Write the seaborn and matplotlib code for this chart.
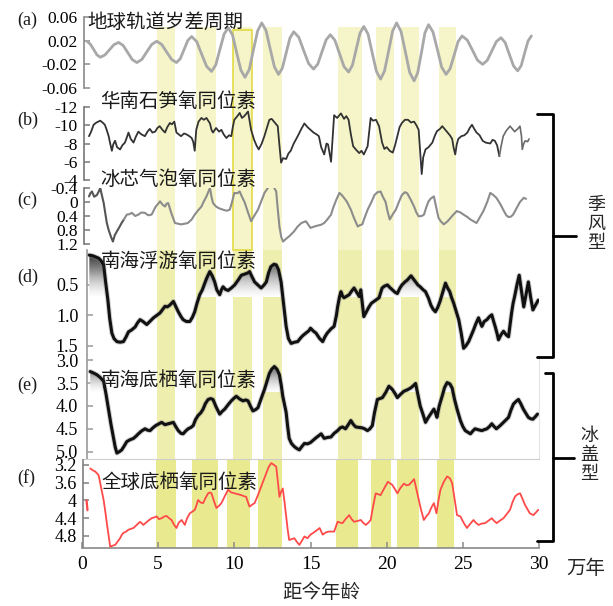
import numpy as np
import matplotlib
matplotlib.use('Agg')
import matplotlib.pyplot as plt
import matplotlib.patheffects as pe
from matplotlib.path import Path
from matplotlib.patches import Rectangle
import seaborn as sns

# ---------------- data (age in 10^4 yr, value) ----------------
a_pts = [(0.33,0.019),(0.55,0.014),(0.77,0.005),(0.98,-0.004),(1.2,-0.008),
 (1.5,-0.0043),(1.8,0.0045),(2.1,0.0133),(2.4,0.017),
 (2.7,0.012),(3.0,0.0),(3.3,-0.012),(3.6,-0.017),
 (3.93,-0.0117),(4.25,0.001),(4.58,0.0137),(4.9,0.019),
 (5.23,0.0137),(5.55,0.001),(5.88,-0.0117),(6.2,-0.017),
 (6.45,-0.0106),(6.7,0.005),(6.95,0.0206),(7.2,0.027),
 (7.53,0.0184),(7.85,-0.0025),(8.18,-0.0234),(8.5,-0.032),
 (8.78,-0.0212),(9.05,0.005),(9.33,0.0312),(9.6,0.042),
 (9.88,0.0297),(10.15,0.0),(10.43,-0.0297),(10.7,-0.042),
 (10.98,-0.0286),(11.25,0.004),(11.53,0.0366),(11.8,0.05),
 (12.08,0.0373),(12.35,0.0065),(12.63,-0.0243),(12.9,-0.037),
 (13.15,-0.0265),(13.4,-0.001),(13.65,0.0245),(13.9,0.035),
 (14.23,0.0258),(14.55,0.0035),(14.88,-0.0188),(15.2,-0.028),
 (15.48,-0.0195),(15.75,0.001),(16.03,0.0215),(16.3,0.03),
 (16.6,0.0208),(16.9,-0.0015),(17.2,-0.0238),(17.5,-0.033),
 (17.75,-0.0218),(18.0,0.0055),(18.25,0.0328),(18.5,0.044),
 (18.78,0.031),(19.05,-0.0005),(19.33,-0.032),(19.6,-0.045),
 (19.86,-0.0311),(20.13,0.0025),(20.39,0.0361),(20.65,0.05),
 (20.94,0.0357),(21.23,0.001),(21.51,-0.0337),(21.8,-0.048),
 (22.04,-0.0341),(22.28,-0.0005),(22.51,0.0331),(22.75,0.047),
 (23.04,0.0347),(23.33,0.005),(23.61,-0.0247),(23.9,-0.037),
 (24.16,-0.0275),(24.43,-0.0045),(24.69,0.0185),(24.95,0.028),
 (25.29,0.021),(25.63,0.004),(25.96,-0.013),(26.3,-0.02),
 (26.6,-0.0134),(26.9,0.0025),(27.2,0.0184),(27.5,0.025),
 (27.78,0.0168),(28.05,-0.003),(28.33,-0.0228),(28.6,-0.031),
 (28.83,-0.0224),(29.05,-0.0015),(29.28,0.0194),(29.5,0.028)]

b_pts = [(0.46,-8.8),(0.6,-9.3),(0.76,-10.05),(0.95,-10.3),(1.2,-10.5),(1.35,-10.3),(1.5,-10.05),
 (1.62,-9.5),(1.75,-8.8),(1.85,-8.0),(1.96,-7.2),(2.05,-7.9),(2.17,-8.3),(2.3,-7.6),(2.5,-7.35),
 (2.65,-7.8),(2.82,-8.1),(2.95,-8.7),(3.05,-9.2),(3.2,-8.5),(3.38,-8.1),(3.55,-8.8),(3.7,-9.3),
 (3.9,-9.0),(4.13,-8.8),(4.3,-9.3),(4.45,-9.6),(4.62,-9.2),(4.8,-9.3),(4.95,-9.7),(5.1,-9.9),
 (5.28,-9.5),(5.45,-9.2),(5.6,-9.8),(5.77,-10.25),(5.9,-10.1),(6.06,-10.4),(6.2,-9.2),(6.35,-9.0),
 (6.5,-8.8),(6.7,-9.1),(6.86,-9.0),(7.05,-8.8),(7.2,-8.6),(7.3,-8.2),(7.4,-7.2),(7.5,-9.5),
 (7.65,-10.4),(7.84,-10.8),(8.0,-10.6),(8.17,-10.8),(8.4,-10.2),(8.5,-9.5),(8.6,-9.2),(8.8,-9.7),
 (9.0,-9.3),(9.15,-9.5),(9.3,-9.0),(9.48,-8.6),(9.65,-8.9),(9.8,-8.8),(9.9,-9.8),(10.0,-10.6),
 (10.2,-11.0),(10.35,-11.35),(10.5,-10.8),(10.65,-11.0),(10.9,-11.5),(11.0,-10.5),(11.1,-9.5),
 (11.3,-8.4),(11.45,-7.8),(11.6,-7.35),(11.8,-8.0),(11.97,-8.8),(12.15,-9.8),(12.3,-10.6),
 (12.45,-10.7),(12.6,-10.4),(12.85,-9.9),(12.95,-8.0),(13.07,-5.9),(13.2,-6.4),(13.4,-6.3),
 (13.55,-6.9),(13.7,-7.2),(13.9,-8.0),(14.16,-8.8),(14.4,-9.6),(14.6,-10.2),(14.8,-9.8),
 (15.0,-9.5),(15.2,-9.2),(15.4,-9.0),(15.55,-8.8),(15.7,-7.6),(15.9,-6.8),(16.05,-8.0),
 (16.15,-7.9),(16.35,-6.0),(16.55,-11.1),(16.75,-10.8),(17.0,-11.3),(17.2,-10.7),(17.35,-11.0),
 (17.5,-10.6),(17.65,-9.0),(17.8,-7.7),(18.0,-7.3),(18.2,-6.95),(18.35,-7.2),(18.5,-6.8),
 (18.75,-7.7),(18.95,-10.8),(19.1,-10.5),(19.3,-10.6),(19.5,-9.9),(19.7,-8.1),(19.85,-7.4),
 (20.0,-7.6),(20.2,-7.2),(20.4,-7.0),(20.55,-7.8),(20.7,-8.8),(20.85,-9.8),(21.0,-10.25),
 (21.2,-10.6),(21.4,-10.6),(21.6,-10.3),(21.8,-10.4),(21.95,-10.0),(22.1,-9.5),(22.2,-7.0),
 (22.3,-4.65),(22.4,-6.5),(22.55,-7.35),(22.75,-7.6),(23.0,-8.1),(23.15,-8.8),(23.3,-9.35),
 (23.5,-9.6),(23.65,-9.9),(23.85,-9.5),(24.0,-9.2),(24.15,-8.9),(24.3,-8.5),(24.4,-7.5),
 (24.5,-6.8),(24.6,-7.9),(24.7,-8.5),(24.9,-8.8),(25.1,-8.9),(25.3,-9.2),(25.45,-9.7),
 (25.6,-10.05),(25.75,-9.6),(25.9,-9.2),(26.1,-8.9),(26.3,-8.3),(26.5,-8.1),(26.8,-8.0),
 (26.95,-8.4),(27.1,-8.3),(27.25,-7.8),(27.4,-6.6),(27.5,-7.6),(27.65,-8.8),(27.85,-9.4),
 (28.1,-9.9),(28.25,-9.6),(28.4,-9.3),(28.6,-9.6),(28.75,-9.9),(28.85,-8.8),(28.9,-7.35),
 (29.0,-8.0),(29.1,-8.3),(29.25,-8.2),(29.35,-8.5)]

c_pts = [(0.46,-0.16),(0.55,-0.25),(0.65,-0.3),(0.8,-0.15),(0.98,-0.2),(1.1,-0.3),(1.2,-0.4),
 (1.3,-0.2),(1.42,0.02),(1.52,0.3),(1.63,0.6),(1.75,0.8),(1.85,0.93),(1.95,1.05),(2.03,1.13),
 (2.15,0.95),(2.29,0.84),(2.45,0.72),(2.6,0.6),(2.75,0.5),(2.94,0.36),(3.1,0.35),(3.27,0.31),
 (3.5,0.4),(3.7,0.36),(3.9,0.3),(4.13,0.31),(4.35,0.38),(4.57,0.36),(4.7,0.25),(4.84,0.13),
 (5.0,0.05),(5.12,-0.02),(5.3,0.08),(5.45,0.13),(5.55,0.05),(5.66,0.03),(5.85,0.3),(6.1,0.6),
 (6.3,0.62),(6.5,0.64),(6.75,0.62),(6.95,0.6),(7.2,0.5),(7.4,0.36),(7.6,0.25),(7.84,0.13),
 (8.0,-0.02),(8.17,-0.16),(8.3,-0.3),(8.4,-0.4),(8.5,-0.15),(8.6,0.03),(8.8,0.13),(9.0,0.18),
 (9.26,0.22),(9.5,0.25),(9.7,0.22),(9.85,0.0),(10.0,-0.26),(10.2,-0.25),(10.35,-0.3),
 (10.5,-0.15),(10.67,0.0),(10.9,0.3),(11.1,0.55),(11.3,0.4),(11.55,0.22),(11.75,0.0),
 (11.98,-0.26),(12.2,-0.4),(12.4,-0.5),(12.6,-0.42),(12.75,-0.3),(12.85,0.2),(12.96,0.7),
 (13.08,1.0),(13.2,1.13),(13.4,1.05),(13.6,0.98),(13.9,0.85),(14.16,0.7),(14.4,0.6),
 (14.7,0.55),(15.0,0.74),(15.25,0.7),(15.5,0.67),(15.7,0.65),(15.9,0.6),(16.1,0.5),
 (16.35,0.36),(16.5,0.15),(16.7,-0.07),(16.9,-0.26),(17.05,-0.2),(17.2,-0.12),(17.4,0.0),
 (17.65,0.22),(17.85,0.45),(18.1,0.7),(18.25,0.66),(18.4,0.64),(18.55,0.45),(18.75,0.22),
 (19.0,0.0),(19.2,-0.2),(19.4,-0.28),(19.6,-0.3),(19.75,-0.15),(19.93,0.0),(20.05,0.25),
 (20.2,0.5),(20.4,0.35),(20.6,0.22),(20.8,0.0),(21.0,-0.2),(21.2,-0.28),(21.35,-0.25),
 (21.6,-0.05),(21.8,0.13),(21.95,0.3),(22.1,0.41),(22.3,0.4),(22.45,0.36),(22.6,0.15),
 (22.75,-0.02),(22.9,-0.1),(23.1,-0.16),(23.25,0.15),(23.4,0.45),(23.55,0.55),(23.75,0.64),
 (24.0,0.55),(24.2,0.45),(24.4,0.35),(24.6,0.26),(24.85,0.3),(25.05,0.36),(25.3,0.43),
 (25.5,0.5),(25.7,0.55),(25.9,0.6),(26.1,0.45),(26.35,0.26),(26.6,0.0),(26.8,-0.26),
 (27.0,-0.2),(27.2,-0.12),(27.45,0.05),(27.65,0.22),(27.85,0.38),(28.0,0.43),(28.15,0.42),
 (28.3,0.36),(28.5,0.2),(28.75,0.0),(29.0,-0.12),(29.15,-0.09)]

d_pts = [(0.48,0.01),(0.7,0.02),(0.9,0.04),(1.09,0.06),(1.25,0.1),(1.42,0.17),(1.55,0.45),
 (1.7,0.75),(1.82,1.05),(1.96,1.29),(2.1,1.38),(2.29,1.43),(2.5,1.44),(2.72,1.43),(2.9,1.35),
 (3.05,1.27),(3.25,1.24),(3.49,1.19),(3.65,1.12),(3.81,1.07),(4.0,1.1),(4.25,1.15),(4.45,1.1),
 (4.69,1.04),(4.9,1.0),(5.12,0.96),(5.3,0.9),(5.45,0.85),(5.6,0.86),(5.77,0.83),(6.0,0.77),
 (6.15,0.85),(6.32,0.94),(6.5,1.02),(6.64,1.07),(6.85,1.1),(7.08,1.1),(7.25,1.03),(7.4,0.94),
 (7.55,0.8),(7.73,0.66),(7.9,0.58),(8.06,0.47),(8.2,0.38),(8.39,0.28),(8.55,0.35),(8.71,0.45),
 (8.85,0.58),(9.04,0.66),(9.15,0.58),(9.26,0.53),(9.4,0.57),(9.59,0.59),(9.8,0.55),(10.02,0.5),
 (10.25,0.42),(10.46,0.34),(10.7,0.32),(10.9,0.3),(11.0,0.28),(11.15,0.36),(11.33,0.45),
 (11.55,0.5),(11.76,0.55),(11.95,0.5),(12.1,0.45),(12.25,0.3),(12.4,0.2),(12.6,0.16),
 (12.75,0.17),(12.9,0.25),(13.07,0.45),(13.25,0.85),(13.4,1.18),(13.55,1.38),(13.73,1.46),
 (13.95,1.44),(14.16,1.43),(14.35,1.37),(14.5,1.33),(14.7,1.29),(14.9,1.25),(15.0,1.21),
 (15.2,1.26),(15.36,1.29),(15.6,1.38),(15.8,1.43),(15.95,1.35),(16.1,1.29),(16.35,1.22),
 (16.55,1.18),(16.7,1.0),(16.78,0.86),(16.9,0.7),(17.0,0.61),(17.1,0.68),(17.2,0.71),
 (17.4,0.68),(17.54,0.66),(17.7,0.6),(17.86,0.55),(18.05,0.63),(18.2,0.69),(18.3,0.58),
 (18.4,0.8),(18.5,1.02),(18.65,0.95),(18.84,0.86),(19.0,0.8),(19.17,0.77),(19.35,0.74),
 (19.5,0.71),(19.7,0.55),(19.85,0.52),(20.05,0.5),(20.2,0.54),(20.37,0.58),(20.55,0.62),
 (20.7,0.64),(20.85,0.56),(21.0,0.5),(21.2,0.45),(21.35,0.42),(21.6,0.35),(21.75,0.4),
 (21.9,0.45),(22.05,0.5),(22.2,0.53),(22.4,0.58),(22.55,0.61),(22.75,0.72),(22.9,0.83),
 (23.05,0.9),(23.2,0.94),(23.35,0.87),(23.5,0.77),(23.7,0.6),(23.86,0.47),(24.0,0.55),
 (24.14,0.61),(24.25,0.7),(24.4,0.8),(24.55,0.92),(24.73,1.07),(24.9,1.3),(25.05,1.54),
 (25.2,1.5),(25.38,1.43),(25.55,1.33),(25.7,1.24),(25.85,1.14),(26.03,1.04),(26.15,1.12),
 (26.25,1.18),(26.4,1.1),(26.58,1.07),(26.75,1.02),(26.9,0.99),(27.0,1.08),(27.12,1.18),
 (27.25,1.3),(27.34,1.4),(27.5,1.32),(27.67,1.26),(27.85,1.32),(28.0,1.35),(28.1,1.15),
 (28.2,0.96),(28.3,0.8),(28.4,0.69),(28.55,0.5),(28.7,0.34),(28.85,0.6),(29.0,0.86),
 (29.15,0.65),(29.3,0.45),(29.45,0.7),(29.6,0.91),(29.8,0.82),(29.95,0.75)]

e_pts = [(0.54,3.25),(0.75,3.28),(0.98,3.32),(1.2,3.38),(1.42,3.46),(1.58,3.75),(1.74,4.07),
 (1.9,4.4),(2.07,4.71),(2.18,4.9),(2.29,5.03),(2.45,5.0),(2.61,4.96),(2.78,4.87),(2.94,4.78),
 (3.15,4.74),(3.38,4.71),(3.55,4.66),(3.7,4.61),(3.9,4.55),(4.14,4.5),(4.3,4.53),(4.47,4.54),
 (4.65,4.48),(4.84,4.43),(5.0,4.4),(5.23,4.36),(5.45,4.41),(5.66,4.39),(5.85,4.37),(6.0,4.36),
 (6.15,4.45),(6.32,4.54),(6.5,4.6),(6.64,4.61),(6.8,4.55),(6.97,4.5),(7.15,4.47),(7.3,4.43),
 (7.45,4.3),(7.62,4.21),(7.8,4.15),(7.95,4.07),(8.1,3.95),(8.28,3.86),(8.45,3.84),(8.6,3.86),
 (8.8,4.02),(9.04,4.18),(9.2,4.12),(9.37,4.07),(9.6,3.97),(9.8,3.89),(9.95,3.84),(10.13,3.79),
 (10.35,3.85),(10.57,3.89),(10.75,3.87),(10.9,3.89),(11.05,4.0),(11.22,4.11),(11.4,4.08),
 (11.55,4.04),(11.75,3.85),(11.98,3.64),(12.15,3.45),(12.3,3.29),(12.45,3.2),(12.63,3.14),
 (12.8,3.2),(12.96,3.32),(13.08,3.55),(13.18,3.79),(13.3,3.98),(13.4,4.14),(13.5,4.45),
 (13.6,4.71),(13.75,4.82),(13.94,4.89),(14.1,4.93),(14.27,4.96),(14.45,4.88),(14.6,4.82),
 (14.8,4.83),(15.0,4.8),(15.35,4.7),(15.7,4.61),(15.9,4.71),(16.1,4.69),(16.34,4.68),
 (16.55,4.6),(16.78,4.54),(16.95,4.48),(17.1,4.46),(17.3,4.5),(17.5,4.4),(17.65,4.32),
 (17.8,4.4),(17.97,4.46),(18.2,4.47),(18.4,4.48),(18.55,4.5),(18.74,4.54),(18.9,4.5),
 (19.06,4.43),(19.2,4.15),(19.39,3.86),(19.55,3.84),(19.72,3.82),(19.95,3.7),(20.15,3.57),
 (20.37,3.64),(20.55,3.73),(20.7,3.82),(20.9,3.75),(21.13,3.68),(21.35,3.65),(21.57,3.61),
 (21.75,3.56),(21.9,3.51),(22.05,3.75),(22.2,4.0),(22.4,4.2),(22.55,4.36),(22.7,4.27),
 (22.88,4.18),(23.0,4.12),(23.1,4.07),(23.2,4.15),(23.3,4.25),(23.45,4.0),(23.64,3.79),
 (23.8,3.6),(23.97,3.49),(24.15,3.52),(24.3,3.61),(24.45,3.85),(24.62,4.07),(24.75,4.22),
 (24.84,4.32),(25.0,4.45),(25.16,4.54),(25.35,4.58),(25.5,4.61),(25.65,4.55),(25.8,4.5),
 (26.0,4.52),(26.25,4.54),(26.4,4.52),(26.58,4.5),(26.75,4.45),(26.9,4.39),(27.05,4.45),
 (27.2,4.5),(27.45,4.43),(27.67,4.36),(27.85,4.3),(28.0,4.25),(28.15,4.1),(28.32,3.96),
 (28.5,3.9),(28.65,3.86),(28.8,3.95),(28.97,4.07),(29.15,4.17),(29.3,4.25),(29.45,4.28),
 (29.6,4.29),(29.75,4.24),(29.9,4.18)]

f_pts = [(0.54,3.28),(0.7,3.32),(0.87,3.35),(1.09,3.43),(1.25,3.7),(1.42,3.99),(1.53,4.25),
 (1.63,4.51),(1.75,4.8),(1.85,5.04),(2.0,5.02),(2.18,5.0),(2.35,4.92),(2.5,4.85),(2.6,4.78),
 (2.72,4.73),(2.9,4.7),(3.05,4.66),(3.2,4.64),(3.38,4.62),(3.6,4.55),(3.81,4.48),(4.03,4.55),
 (4.3,4.47),(4.57,4.4),(4.75,4.38),(4.9,4.36),(5.05,4.42),(5.23,4.4),(5.4,4.36),(5.56,4.35),
 (5.72,4.4),(5.88,4.44),(6.05,4.55),(6.2,4.62),(6.35,4.5),(6.54,4.44),(6.65,4.5),(6.75,4.55),
 (6.9,4.4),(7.08,4.29),(7.25,4.25),(7.41,4.21),(7.52,4.1),(7.62,3.99),(7.8,4.05),(7.95,4.06),
 (8.1,3.95),(8.28,3.84),(8.4,3.82),(8.5,3.84),(8.65,4.0),(8.82,4.17),(9.0,4.12),(9.15,4.06),
 (9.35,3.92),(9.59,3.76),(9.8,3.82),(10.02,3.84),(10.25,3.86),(10.46,3.88),(10.6,3.9),
 (10.78,3.92),(10.9,4.05),(11.0,4.14),(11.15,4.1),(11.33,4.06),(11.55,3.88),(11.76,3.69),
 (11.95,3.52),(12.09,3.39),(12.25,3.25),(12.42,3.16),(12.6,3.2),(12.75,3.24),(12.85,3.55),
 (12.96,3.92),(13.07,3.8),(13.18,3.73),(13.3,4.05),(13.4,4.36),(13.5,4.65),(13.6,4.89),
 (13.78,4.87),(13.94,4.85),(14.1,4.93),(14.27,5.0),(14.45,4.9),(14.6,4.81),(14.8,4.85),
 (15.0,4.77),(15.3,4.7),(15.6,4.62),(15.8,4.77),(16.0,4.72),(16.2,4.7),(16.55,4.7),
 (16.78,4.48),(16.95,4.5),(17.1,4.51),(17.3,4.42),(17.54,4.33),(17.7,4.42),(17.86,4.48),
 (18.1,4.46),(18.3,4.44),(18.45,4.5),(18.63,4.55),(18.8,4.5),(18.95,4.44),(19.1,4.15),
 (19.28,3.84),(19.45,3.86),(19.6,3.88),(19.85,3.72),(20.08,3.58),(20.37,3.65),(20.55,3.75),
 (20.7,3.84),(20.9,3.72),(21.13,3.62),(21.3,3.66),(21.46,3.65),(21.65,3.58),(21.8,3.52),
 (21.95,3.75),(22.1,3.99),(22.25,4.2),(22.44,4.44),(22.6,4.36),(22.77,4.29),(22.95,4.15),
 (23.1,4.06),(23.2,4.2),(23.27,4.29),(23.4,4.0),(23.53,3.76),(23.75,3.58),(23.97,3.46),
 (24.15,3.5),(24.3,3.61),(24.45,3.95),(24.62,4.33),(24.84,4.36),(25.05,4.5),(25.27,4.62),
 (25.5,4.52),(25.7,4.44),(25.85,4.5),(26.03,4.55),(26.25,4.52),(26.47,4.51),(26.7,4.45),
 (26.9,4.4),(27.05,4.46),(27.23,4.51),(27.45,4.45),(27.67,4.4),(27.9,4.3),(28.1,4.21),
 (28.25,4.05),(28.43,3.91),(28.6,3.86),(28.76,3.84),(28.9,3.95),(29.08,4.1),(29.25,4.2),
 (29.4,4.29),(29.63,4.33),(29.8,4.27),(29.95,4.21)]
f_stray = [(0.3,4.0),(0.36,4.22)]

# highlighted intervals
bands_upper = [(4.9,6.1),(7.5,8.8),(9.9,11.15),(11.9,13.1),(16.8,18.4),(19.3,20.45),(20.95,22.1),(23.45,24.55)]
bands_lower = [(4.84,6.2),(7.2,8.9),(9.5,11.0),(11.55,13.1),(16.7,18.1),(18.95,20.3),(20.7,22.1),(23.3,24.4)]
outlined_band = 2

titles = ['地球轨道岁差周期','华南石笋氧同位素','冰芯气泡氧同位素','南海浮游氧同位素','南海底栖氧同位素','全球底栖氧同位素']
labels = ['(a)','(b)','(c)','(d)','(e)','(f)']
a_ticks, a_tlab = [0.06,0.02,-0.02,-0.06], ['0.06','0.02','-0.02','-0.06']
b_ticks, b_tlab = [-12,-10,-8,-6,-4], ['-12','-10','-8','-6','-4']
c_ticks, c_tlab = [-0.4,0,0.4,0.8,1.2], ['-0.4','0','0.4','0.8','1.2']
d_ticks, d_tlab = [0.5,1.0,1.5], ['0.5','1.0','1.5']
e_ticks, e_tlab = [3.0,3.5,4.0,4.5,5.0], ['3.0','3.5','4.0','4.5','5.0']
f_ticks, f_tlab = [3.2,3.6,4.0,4.4,4.8], ['3.2','3.6','4','4.4','4.8']
x_ticks, x_tlab = [0,5,10,15,20,25,30], ['0','5','10','15','20','25','30']

# ---------------- style ----------------
sns.set_style('white')
plt.rcParams['font.family'] = ['Liberation Serif', 'Noto Sans CJK SC']
plt.rcParams['axes.unicode_minus'] = False
CJK = ['Noto Sans CJK SC', 'DejaVu Sans']

W, H = 613, 606
X0, X1 = 82, 539
fig = plt.figure(figsize=(W/100, H/100), dpi=100)

# background band layer (x in age, y in pixels)
bg = fig.add_axes([0, 0, 1, 1])
bg.set_xlim(-X0*30/(X1-X0), (W-X0)*30/(X1-X0))
bg.set_ylim(H, 0)
bg.axis('off')
for i, (b0, b1) in enumerate(bands_upper):
    bg.add_patch(Rectangle((b0, 27), b1-b0, 250-27, facecolor='#f5f5c9', edgecolor='none'))
    bg.add_patch(Rectangle((b0, 250), b1-b0, 459-250, facecolor='#eeeeae', edgecolor='none'))
    if i == outlined_band:
        bg.add_patch(Rectangle((b0, 30), b1-b0, 250-30, facecolor='none', edgecolor='#e2da45', lw=1.2))
for b0, b1 in bands_lower:
    bg.add_patch(Rectangle((b0, 459), b1-b0, 548-459, facecolor='#e9e98f', edgecolor='none'))


def panel(top, bottom, ylim, ticks, tlab, spx, spc, lsize, pad):
    ax = fig.add_axes([X0/W, 1-bottom/H, (X1-X0)/W, (bottom-top)/H])
    ax.set_facecolor('none')
    for s in ['top', 'right', 'bottom']:
        ax.spines[s].set_visible(False)
    ax.spines['left'].set_color(spc)
    ax.spines['left'].set_linewidth(1.2)
    ax.spines['left'].set_position(('data', spx))
    ax.set_xlim(0, 30)
    ax.set_ylim(ylim)
    ax.set_yticks(ticks, labels=tlab)
    ax.tick_params(axis='y', left=True, direction='in', length=4, width=1.1, color=spc,
                   labelcolor='black', labelsize=lsize, pad=pad)
    ax.tick_params(axis='x', bottom=False, labelbottom=False)
    return ax


def draw(ax, pts, color, lw, glow=False):
    arr = np.array(pts)
    sns.lineplot(x=arr[:, 0], y=arr[:, 1], ax=ax, color=color, lw=lw, estimator=None, sort=False, zorder=3)
    ln = ax.lines[-1]
    if glow:
        ln.set_path_effects([pe.Stroke(linewidth=lw+1.4, foreground='#8a8a8a', alpha=0.4), pe.Normal()])
    ax.set_xlabel('')
    ax.set_ylabel('')


def gradient(ax, pts, thr, top):
    arr = np.array(pts)
    x, y = arr[:, 0], arr[:, 1]
    coll = ax.fill_between(x, y, thr, where=(y < thr), interpolate=True, facecolor='none', edgecolor='none')
    paths = coll.get_paths()
    if paths:
        path = Path.make_compound_path(*paths)
        grad = np.linspace(1, 0, 256).reshape(-1, 1)
        im = ax.imshow(grad, extent=[0, 30, thr, top], aspect='auto', cmap='Greys', vmin=0, vmax=1.05,
                       origin='upper', zorder=1, interpolation='bilinear')
        im.set_clip_path(path, transform=ax.transData)


axa = panel(17, 88, (-0.06, 0.06), a_ticks, a_tlab, 0.13, '#8a8a8a', 12.5, 4.5)
draw(axa, a_pts, '#a8a8a8', 2.0)
axa.set_ylim(-0.06, 0.06)

axb = panel(107, 180, (-4, -12), b_ticks, b_tlab, 0.13, '#777777', 12.5, 4.5)
draw(axb, b_pts[:165], '#333333', 1.3)
draw(axb, b_pts[164:], '#6a6a6a', 1.2)
axb.set_ylim(-4, -12)

axc = panel(188, 244, (1.2, -0.4), c_ticks, c_tlab, 0.13, '#777777', 12.5, 4.5)
draw(axc, c_pts[:20], '#555555', 1.5)
draw(axc, c_pts[19:], '#8c8c8c', 1.5)
axc.set_ylim(1.2, -0.4)

axd = panel(250, 355, (1.65, -0.074), d_ticks, d_tlab, 0.35, '#9a9a9a', 13, 6.5)
gradient(axd, d_pts, 0.7, -0.074)
draw(axd, d_pts, '#111111', 2.2, glow=True)
axd.set_xlim(0, 30)
axd.set_ylim(1.65, -0.074)

axe = panel(356, 459, (5.16, 2.91), e_ticks, e_tlab, 0.35, '#9a9a9a', 13, 6.5)
gradient(axe, e_pts, 3.7, 2.91)
draw(axe, e_pts, '#111111', 2.2, glow=True)
axe.spines['bottom'].set_visible(True)
axe.spines['bottom'].set_color('#cfcfcf')
axe.spines['right'].set_visible(True)
axe.spines['right'].set_color('#e4e4e4')
axe.set_xlim(0, 30)
axe.set_ylim(5.16, 2.91)

axf = panel(460, 548, (5.07, 3.09), f_ticks, f_tlab, 0.05, '#808080', 13, 4.5)
draw(axf, f_pts, '#ff4a4a', 1.3)
draw(axf, f_stray, '#ff4a4a', 1.6)
axf.spines['bottom'].set_visible(True)
axf.spines['bottom'].set_color('#8a8a8a')
axf.spines['bottom'].set_linewidth(1.2)
axf.set_xticks(x_ticks, labels=x_tlab)
axf.tick_params(axis='x', bottom=True, labelbottom=True, direction='in', length=4, width=1.1,
                color='#8a8a8a', labelcolor='black', labelsize=14, pad=6)
axf.set_xlim(0, 30)
axf.set_ylim(5.07, 3.09)

# annotation layer in pixel coords
ann = fig.add_axes([0, 0, 1, 1])
ann.set_xlim(0, W)
ann.set_ylim(H, 0)
ann.axis('off')
ann.patch.set_alpha(0)

title_pos = [(87, 22), (100, 101), (100, 179), (101, 261), (101, 380), (101, 482)]
label_pos = [20, 120, 200, 277, 385, 478]
for t, (px, py) in zip(titles, title_pos):
    ann.text(px, py, t, fontsize=14, family=CJK, ha='left', va='center', color='#1a1a1a')
for l, py in zip(labels, label_pos):
    ann.text(17, py, l, fontsize=13, ha='left', va='center', color='#1a1a1a')

ann.plot([537, 553, 553, 537], [114, 114, 357, 357], color='black', lw=2, solid_joinstyle='round')
ann.plot([553, 576], [236, 236], color='black', lw=2)
ann.plot([545, 553, 553, 537], [373, 373, 541, 541], color='black', lw=2, solid_joinstyle='round')
ann.plot([553, 574], [458, 458], color='black', lw=2)
ann.text(596, 224, '季\n风\n型', fontsize=13, family=CJK, ha='center', va='center', linespacing=1.05)
ann.text(589, 455, '冰\n盖\n型', fontsize=13, family=CJK, ha='center', va='center', linespacing=1.05)
ann.text(586, 569, '万年', fontsize=14, family=CJK, ha='center', va='center')
ann.text(321, 592, '距今年龄', fontsize=14, family=CJK, ha='center', va='center')

fig.savefig('out.png', dpi=100)
